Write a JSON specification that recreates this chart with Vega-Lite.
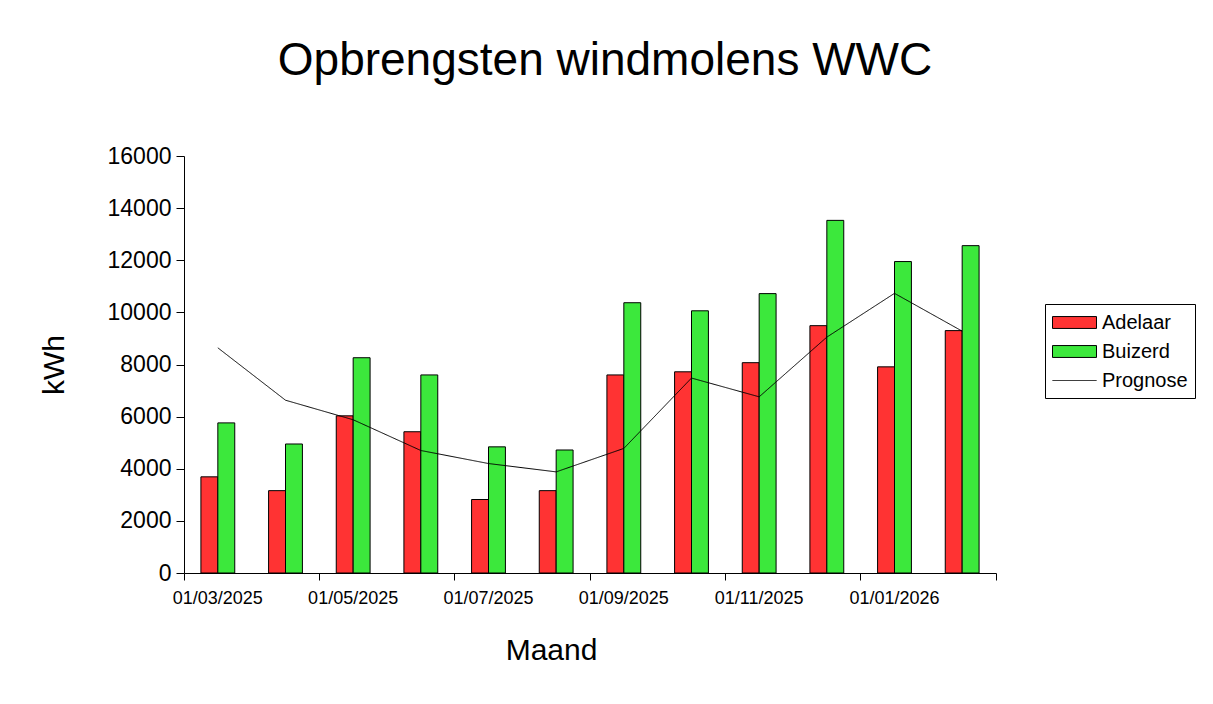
{
  "$schema": "https://vega.github.io/schema/vega-lite/v6.json",
  "autosize": "none",
  "padding": {"left": 184, "top": 156, "right": 217, "bottom": 131},
  "width": 812,
  "height": 417,
  "background": "white",
  "title": {
    "text": "Opbrengsten windmolens WWC",
    "font": "Liberation Sans",
    "fontSize": 46,
    "fontWeight": "normal",
    "color": "black",
    "anchor": "middle",
    "dx": 15,
    "offset": 60
  },
  "datasets": {
    "productie": [
      {"maand": "01/03/2025", "molen": "Adelaar", "kwh": 3690},
      {"maand": "01/04/2025", "molen": "Adelaar", "kwh": 3160},
      {"maand": "01/05/2025", "molen": "Adelaar", "kwh": 6030},
      {"maand": "01/06/2025", "molen": "Adelaar", "kwh": 5420},
      {"maand": "01/07/2025", "molen": "Adelaar", "kwh": 2820},
      {"maand": "01/08/2025", "molen": "Adelaar", "kwh": 3160},
      {"maand": "01/09/2025", "molen": "Adelaar", "kwh": 7600},
      {"maand": "01/10/2025", "molen": "Adelaar", "kwh": 7720},
      {"maand": "01/11/2025", "molen": "Adelaar", "kwh": 8070},
      {"maand": "01/12/2025", "molen": "Adelaar", "kwh": 9490},
      {"maand": "01/01/2026", "molen": "Adelaar", "kwh": 7910},
      {"maand": "01/02/2026", "molen": "Adelaar", "kwh": 9300},
      {"maand": "01/03/2025", "molen": "Buizerd", "kwh": 5760},
      {"maand": "01/04/2025", "molen": "Buizerd", "kwh": 4950},
      {"maand": "01/05/2025", "molen": "Buizerd", "kwh": 8260},
      {"maand": "01/06/2025", "molen": "Buizerd", "kwh": 7600},
      {"maand": "01/07/2025", "molen": "Buizerd", "kwh": 4840},
      {"maand": "01/08/2025", "molen": "Buizerd", "kwh": 4720},
      {"maand": "01/09/2025", "molen": "Buizerd", "kwh": 10370},
      {"maand": "01/10/2025", "molen": "Buizerd", "kwh": 10060},
      {"maand": "01/11/2025", "molen": "Buizerd", "kwh": 10720},
      {"maand": "01/12/2025", "molen": "Buizerd", "kwh": 13530},
      {"maand": "01/01/2026", "molen": "Buizerd", "kwh": 11950},
      {"maand": "01/02/2026", "molen": "Buizerd", "kwh": 12560}
    ],
    "prognose": [
      {"maand": "01/03/2025", "kwh": 8640},
      {"maand": "01/04/2025", "kwh": 6630},
      {"maand": "01/05/2025", "kwh": 5880},
      {"maand": "01/06/2025", "kwh": 4700},
      {"maand": "01/07/2025", "kwh": 4200},
      {"maand": "01/08/2025", "kwh": 3880},
      {"maand": "01/09/2025", "kwh": 4780},
      {"maand": "01/10/2025", "kwh": 7480},
      {"maand": "01/11/2025", "kwh": 6760},
      {"maand": "01/12/2025", "kwh": 9050},
      {"maand": "01/01/2026", "kwh": 10730},
      {"maand": "01/02/2026", "kwh": 9280}
    ]
  },
  "layer": [
    {
      "data": {"name": "productie"},
      "mark": {"type": "bar", "strokeWidth": 1},
      "encoding": {
        "x": {
          "field": "maand",
          "type": "ordinal",
          "sort": null,
          "scale": {"paddingInner": 0, "paddingOuter": 0},
          "axis": {
            "values": ["01/03/2025", "01/05/2025", "01/07/2025", "01/09/2025", "01/11/2025", "01/01/2026"],
            "bandPosition": 0,
            "labelAngle": 0,
            "labelFontSize": 18,
            "labelPadding": 9,
            "tickSize": 7,
            "title": "Maand",
            "titleFontSize": 30,
            "titlePadding": 28,
            "titleX": 367
          }
        },
        "xOffset": {
          "field": "molen",
          "type": "nominal",
          "scale": {"paddingInner": 0, "paddingOuter": 1.42}
        },
        "y": {
          "field": "kwh",
          "type": "quantitative",
          "scale": {"domain": [0, 16000], "nice": false},
          "axis": {
            "values": [0, 2000, 4000, 6000, 8000, 10000, 12000, 14000, 16000],
            "grid": false,
            "format": "d",
            "labelFontSize": 23,
            "labelPadding": 5,
            "tickSize": 8,
            "title": "kWh",
            "titleFontSize": 30,
            "titlePadding": 38
          }
        },
        "color": {
          "field": "molen",
          "type": "nominal",
          "scale": {
            "domain": ["Adelaar", "Buizerd", "Prognose"],
            "range": ["#ff3333", "#3ce83c", "transparent"]
          },
          "legend": {
            "title": null,
            "orient": "none",
            "legendX": 861,
            "legendY": 148,
            "strokeColor": "black",
            "fillColor": "white",
            "padding": 7,
            "symbolType": "M-2,-0.54H2V0.54H-2Z",
            "symbolSize": 484,
            "symbolOffset": 11,
            "symbolStrokeWidth": 1,
            "labelFontSize": 20,
            "labelOffset": 16,
            "rowPadding": 7
          }
        },
        "stroke": {
          "field": "molen",
          "type": "nominal",
          "scale": {
            "domain": ["Adelaar", "Buizerd", "Prognose"],
            "range": ["black", "black", "transparent"]
          },
          "legend": {
            "title": null,
            "orient": "none",
            "legendX": 861,
            "legendY": 148,
            "strokeColor": "black",
            "fillColor": "white",
            "padding": 7,
            "symbolType": "M-2,-0.54H2V0.54H-2Z",
            "symbolSize": 484,
            "symbolOffset": 11,
            "symbolStrokeWidth": 1,
            "labelFontSize": 20,
            "labelOffset": 16,
            "rowPadding": 7
          }
        }
      }
    },
    {
      "data": {"name": "prognose"},
      "mark": {"type": "line", "color": "black", "strokeWidth": 1},
      "encoding": {
        "x": {
          "field": "maand",
          "type": "ordinal",
          "sort": null,
          "axis": {
            "orient": "bottom",
            "values": ["01/02/2026"],
            "bandPosition": 1,
            "labels": false,
            "domain": false,
            "tickSize": 7,
            "title": null
          }
        },
        "y": {"field": "kwh", "type": "quantitative"},
        "strokeDash": {
          "datum": "Prognose",
          "type": "nominal",
          "scale": {"domain": ["Prognose"], "range": [[1, 0]]},
          "legend": {
            "title": null,
            "orient": "none",
            "legendX": 868,
            "legendY": 213,
            "padding": 0,
            "symbolType": "M-2,0H2",
            "symbolSize": 484,
            "symbolOffset": 11,
            "symbolStrokeColor": "black",
            "symbolStrokeWidth": 1,
            "labelExpr": "''",
            "labelFontSize": 20
          }
        }
      }
    }
  ],
  "resolve": {"axis": {"x": "independent"}},
  "config": {
    "font": "Liberation Sans",
    "view": {"stroke": null},
    "axis": {
      "domainColor": "black",
      "tickColor": "black",
      "labelColor": "black",
      "titleColor": "black",
      "titleFontWeight": "normal",
      "labelFont": "Liberation Sans",
      "titleFont": "Liberation Sans"
    },
    "legend": {"labelColor": "black", "labelFont": "Liberation Sans"}
  }
}
